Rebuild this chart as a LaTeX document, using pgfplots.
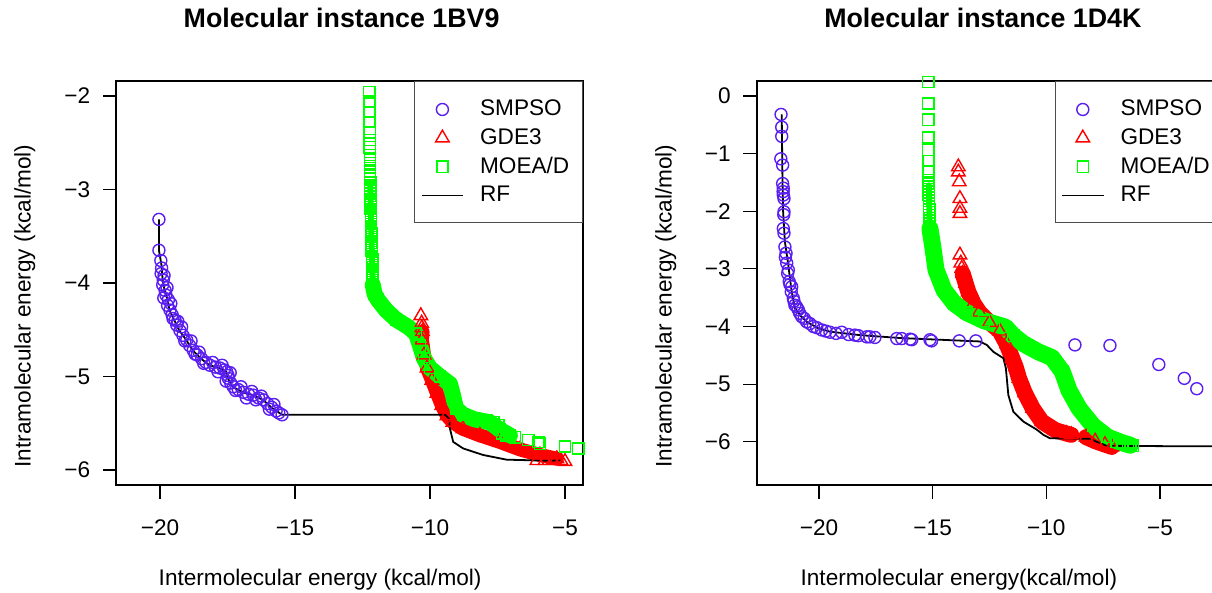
\documentclass[border=0pt]{standalone}
\usepackage{fontspec}
\setmainfont{Liberation Sans}
\usepackage{pgfplots}
\pgfplotsset{compat=1.18}
\usepackage{pgfplotstable}

\definecolor{smpso}{RGB}{90,30,240}
\definecolor{gde}{RGB}{255,0,0}
\definecolor{moea}{RGB}{0,255,0}
\newcommand{\fs}{\fontsize{11.3}{13.5}\selectfont}
\newcommand{\ft}{\fontsize{13.4}{16}\selectfont\bfseries}

% ---------- 1BV9 ----------
\pgfplotstableread{
x y
-20.04 -3.32
-20.04 -3.65
-19.97 -3.76
-19.94 -3.84
-19.96 -3.90
-19.88 -3.97
-19.90 -4.02
-19.81 -4.08
-19.78 -4.13
-19.69 -4.18
-19.72 -4.24
-19.63 -4.29
-19.55 -4.34
-19.44 -4.40
-19.38 -4.45
-19.26 -4.51
-19.15 -4.56
-19.01 -4.61
-18.90 -4.67
-18.77 -4.72
-18.62 -4.77
-18.46 -4.81
-18.30 -4.85
-18.15 -4.88
-17.95 -4.90
-17.78 -4.91
-17.62 -4.93
-17.53 -4.95
-17.48 -4.99
-17.47 -5.02
-17.38 -5.07
-17.29 -5.11
-17.10 -5.14
-16.91 -5.17
-16.72 -5.19
-16.54 -5.20
-16.35 -5.23
-16.17 -5.25
-16.02 -5.29
-15.86 -5.33
-15.70 -5.37
-15.48 -5.41
-19.85 -3.92
-19.74 -4.05
-19.86 -4.16
-19.60 -4.22
-19.52 -4.38
-19.34 -4.41
-19.20 -4.47
-19.08 -4.62
-18.85 -4.62
-18.70 -4.76
-18.55 -4.74
-18.38 -4.86
-18.05 -4.85
-17.85 -4.95
-17.70 -4.88
-17.40 -4.96
-17.55 -5.05
-17.20 -5.15
-17.00 -5.11
-16.80 -5.23
-16.60 -5.16
-16.45 -5.25
-16.25 -5.21
-15.95 -5.35
-15.78 -5.30
-15.60 -5.39
}\lsmpso

\pgfplotstableread{
x y
-10.28 -4.52
-10.30 -4.61
-10.22 -4.77
-10.11 -4.91
-9.93 -5.04
-9.74 -5.18
-9.56 -5.31
-9.37 -5.42
-9.15 -5.49
-8.78 -5.56
-8.15 -5.63
-7.41 -5.70
-6.67 -5.78
-5.93 -5.84
-5.30 -5.88
}\lgdeband

\pgfplotstableread{
x y
-10.34 -4.35
-10.31 -4.43
-10.30 -4.48
-6.04 -5.90
-5.74 -5.90
-5.44 -5.90
-5.15 -5.90
-5.00 -5.91
}\lgdept

\pgfplotstableread{
x y
-12.12 -4.02
-12.05 -4.12
-11.93 -4.18
-11.63 -4.29
-11.26 -4.39
-10.81 -4.47
-10.52 -4.54
-10.37 -4.67
-10.22 -4.81
-10.00 -4.91
-9.63 -5.00
-9.26 -5.08
-9.15 -5.20
-9.04 -5.34
-8.78 -5.41
-8.33 -5.46
-7.78 -5.49
-7.41 -5.57
-7.04 -5.63
}\lmoeaband

\pgfplotstableread{
x y
-12.21 -2.95
-12.17 -3.50
-12.12 -4.02
}\lmoeacol

\pgfplotstableread{
x y
-12.25 -1.84
-12.25 -1.96
-12.24 -2.06
-12.24 -2.17
-12.24 -2.28
-12.23 -2.39
-12.23 -2.47
-12.23 -2.55
-12.22 -2.63
-12.22 -2.68
-12.22 -2.72
-12.22 -2.77
-12.22 -2.81
-12.22 -2.85
-12.22 -2.88
-12.21 -2.92
-12.21 -2.96
-12.21 -2.99
-12.21 -3.02
-12.21 -3.05
-12.21 -3.07
-12.20 -3.10
-12.20 -3.12
-12.20 -3.15
-12.20 -3.17
-12.20 -3.19
-12.20 -3.21
-12.19 -3.23
-12.19 -3.25
-12.19 -3.27
-12.19 -3.29
-12.19 -3.31
-12.19 -3.33
-12.18 -3.35
-12.18 -3.37
-12.18 -3.39
-12.18 -3.41
-12.18 -3.43
-12.18 -3.45
-12.17 -3.47
-12.17 -3.49
-12.17 -3.51
-12.17 -3.53
-12.17 -3.55
-12.17 -3.57
-12.16 -3.59
-12.16 -3.61
-12.16 -3.63
-12.16 -3.65
-12.15 -3.67
-12.15 -3.69
-12.15 -3.71
-12.15 -3.73
-12.14 -3.75
-12.14 -3.77
-12.14 -3.79
-12.14 -3.81
-12.13 -3.83
-12.13 -3.85
-12.13 -3.87
-12.13 -3.89
-12.12 -3.91
-12.12 -3.93
-12.12 -3.95
-12.12 -3.97
-8.33 -5.45
-7.90 -5.47
-7.65 -5.49
-7.47 -5.52
-7.34 -5.61
-7.16 -5.63
-6.85 -5.65
-6.36 -5.68
-5.99 -5.70
-5.93 -5.72
-5.00 -5.75
-4.51 -5.77
}\lmoeapt

\pgfplotstableread{
x y
-20.04 -3.32
-20.04 -3.65
-19.95 -3.80
-19.90 -3.97
-19.83 -4.08
-19.72 -4.18
-19.65 -4.29
-19.47 -4.40
-19.28 -4.51
-19.03 -4.61
-18.79 -4.72
-18.48 -4.81
-18.17 -4.88
-17.80 -4.91
-17.55 -4.95
-17.49 -5.02
-17.31 -5.11
-16.93 -5.17
-16.56 -5.20
-16.19 -5.25
-15.88 -5.33
-15.48 -5.41
-9.44 -5.41
-9.30 -5.45
-9.26 -5.56
-9.14 -5.70
-8.77 -5.77
-8.03 -5.84
-7.16 -5.89
-5.80 -5.90
-5.12 -5.90
}\lrf

% ---------- 1D4K ----------
\pgfplotstableread{
x y
-21.67 -0.32
-21.64 -0.54
-21.64 -0.70
-21.68 -1.09
-21.60 -1.20
-21.60 -1.52
-21.57 -1.60
-21.58 -1.66
-21.57 -1.72
-21.54 -1.78
-21.54 -2.01
-21.55 -2.06
-21.57 -2.30
-21.54 -2.38
-21.50 -2.62
-21.45 -2.73
-21.48 -2.80
-21.42 -2.90
-21.35 -3.02
-21.38 -3.08
-21.31 -3.22
-21.28 -3.27
-21.20 -3.31
-21.22 -3.40
-21.13 -3.51
-21.10 -3.56
-21.06 -3.63
-20.98 -3.66
-20.91 -3.71
-20.85 -3.77
-20.76 -3.83
-20.65 -3.86
-20.54 -3.92
-20.40 -3.95
-20.25 -4.00
-20.10 -4.02
-19.88 -4.06
-19.70 -4.08
-19.52 -4.10
-19.25 -4.12
-19.00 -4.10
-18.70 -4.14
-18.42 -4.15
-18.27 -4.16
-17.90 -4.18
-17.76 -4.18
-17.54 -4.19
-16.58 -4.21
-16.36 -4.21
-15.99 -4.22
-15.92 -4.23
-15.12 -4.23
-15.05 -4.25
-13.83 -4.25
-13.10 -4.25
-8.74 -4.32
-7.20 -4.33
-5.05 -4.66
-3.93 -4.90
-3.38 -5.08
}\rsmpso

\pgfplotstableread{
x y
-13.68 -3.08
-13.55 -3.25
-13.43 -3.40
-13.20 -3.60
-12.95 -3.75
-12.50 -3.93
-12.05 -4.08
-11.75 -4.30
-11.50 -4.55
-11.35 -4.70
-11.20 -4.90
-10.95 -5.15
-10.60 -5.42
-10.20 -5.65
-9.60 -5.80
-9.10 -5.86
-8.90 -5.88
nan nan
-8.25 -5.92
-7.85 -5.99
-7.42 -6.05
-7.12 -6.09
}\rgdeband

\pgfplotstableread{
x y
-13.87 -1.23
-13.87 -1.32
-13.83 -1.49
-13.80 -1.78
-13.80 -1.95
-13.80 -2.04
-13.80 -2.76
-13.76 -2.90
-13.72 -2.99
}\rgdept

\pgfplotstableread{
x y
-15.12 -2.30
-15.00 -2.60
-14.85 -3.02
-14.50 -3.37
-14.05 -3.60
-13.50 -3.76
-12.75 -3.90
-11.80 -4.01
-11.45 -4.16
-11.00 -4.30
-10.35 -4.44
-9.75 -4.54
-9.30 -4.78
-9.00 -5.11
-8.56 -5.42
-7.95 -5.72
-7.30 -5.92
-6.65 -6.02
-6.30 -6.06
}\rmoeaband

\pgfplotstableread{
x y
-15.17 -1.55
-15.14 -2.10
-15.12 -2.35
}\rmoeacol

\pgfplotstableread{
x y
-15.19 0.24
-15.19 -0.13
-15.19 -0.41
-15.19 -0.72
-15.19 -0.94
-15.18 -1.13
-15.18 -1.30
-15.18 -1.46
-15.18 -1.52
-15.17 -1.57
-15.17 -1.62
-15.17 -1.67
-15.17 -1.72
-15.16 -1.77
-15.16 -1.82
-15.16 -1.87
-15.16 -1.92
-15.15 -1.97
-15.15 -2.02
-15.15 -2.07
-15.14 -2.12
-15.14 -2.17
-15.13 -2.22
-15.13 -2.27
-6.90 -6.00
-6.62 -6.04
-6.40 -6.06
-6.18 -6.07
}\rmoeapt

\pgfplotstableread{
x y
-21.64 -0.32
-21.61 -1.37
-21.58 -2.00
-21.50 -2.53
-21.35 -2.93
-21.28 -3.16
-21.20 -3.40
-21.06 -3.68
-20.80 -3.82
-20.54 -3.92
-20.03 -4.03
-19.52 -4.09
-18.20 -4.15
-16.44 -4.20
-12.92 -4.26
-12.62 -4.32
-12.33 -4.44
-11.89 -4.55
-11.78 -4.72
-11.67 -5.19
-11.45 -5.48
-11.01 -5.65
-10.42 -5.79
-10.13 -5.88
-9.84 -5.94
-8.08 -5.95
-7.79 -6.00
-7.35 -6.07
-3.69 -6.08
-2.30 -6.08
}\rrf

\pgfplotsset{
  rpanel/.style={
    scale only axis, width=233.2pt, height=202pt, anchor=south west,
    tick align=outside, xtick pos=bottom, ytick pos=left,
    major tick length=6.65pt,
    tick style={black, line width=0.6pt},
    axis line style={black, line width=0.8pt},
    ticklabel style={font=\fs, inner sep=0pt},
    xticklabel shift=10.5pt, yticklabel shift=6.2pt,
    xtick={-20,-15,-10,-5}, xticklabels={−20,−15,−10,−5},
    label style={font=\fs},
    title style={font=\ft, anchor=center},
    unbounded coords=jump,
    legend cell align=left,
    legend style={at={(1,1)}, anchor=north east, draw=black!70, line width=0.6pt,
      fill=white, inner xsep=3pt, inner ysep=9.1pt, row sep=4.85pt, font=\fs,
      nodes={inner sep=0pt},
      /tikz/every odd column/.append style={column sep=8pt},
      /tikz/every even column/.append style={text width=48pt}},
    legend image code/.code={\draw[mark repeat=2,mark phase=2,#1]
      plot coordinates {(0pt,0pt) (10.4pt,0pt) (20.8pt,0pt)};},
  },
  smp/.style={smpso, only marks, mark=o, mark size=3pt, mark options={line width=0.7pt}},
  gdm/.style={gde, only marks, mark=triangle, mark size=3.9pt, mark options={line width=0.7pt}},
  moem/.style={moea, only marks, mark=square, mark size=2.8pt, mark options={line width=0.7pt}},
  band/.style={line width=#1, line join=round, line cap=round, forget plot},
}

\begin{document}
\begin{tikzpicture}
\begin{axis}[rpanel,
  at={(58.15pt,53.85pt)},
  xmin=-21.619, xmax=-4.344, ymin=-6.164, ymax=-1.843,
  ytick={-6,-5,-4,-3,-2}, yticklabels={−6,−5,−4,−3,−2},
  title={Molecular instance 1BV9},
  title style={at={(axis description cs:0.483,1.127)}},
  xlabel={Intermolecular energy (kcal/mol)},
  xlabel style={at={(axis description cs:0.437,-0.234)}, anchor=center},
  ylabel={Intramolecular energy (kcal/mol)},
  ylabel style={at={(axis description cs:-0.196,0.444)}, anchor=center},
]
\addplot[smp] table {\lsmpso};
\addlegendentry{SMPSO}
\addplot[gde, band=7pt] table {\lgdeband};
\addplot[gdm] table {\lgdeband};
\addlegendentry{GDE3}
\addplot[gdm, forget plot] table {\lgdept};
\addplot[moea, band=3pt] table {\lmoeacol};
\addplot[moea, band=8pt] table {\lmoeaband};
\addplot[moem] table {\lmoeaband};
\addlegendentry{MOEA/D}
\addplot[moem, forget plot] table {\lmoeapt};
\addplot[black, line width=0.9pt] table {\lrf};
\addlegendentry{RF}
\end{axis}

\begin{axis}[rpanel,
  at={(378.35pt,53.85pt)},
  xmin=-22.741, xmax=-2.222, ymin=-6.756, ymax=0.255,
  ytick={-6,-5,-4,-3,-2,-1,0}, yticklabels={−6,−5,−4,−3,−2,−1,0},
  title={Molecular instance 1D4K},
  title style={at={(axis description cs:0.485,1.127)}},
  xlabel={Intermolecular energy(kcal/mol)},
  xlabel style={at={(axis description cs:0.4335,-0.234)}, anchor=center},
  ylabel={Intramolecular energy (kcal/mol)},
  ylabel style={at={(axis description cs:-0.195,0.444)}, anchor=center},
]
\addplot[smp] table {\rsmpso};
\addlegendentry{SMPSO}
\addplot[gde, band=8pt] table {\rgdeband};
\addplot[gdm] table {\rgdeband};
\addlegendentry{GDE3}
\addplot[gdm, forget plot] table {\rgdept};
\addplot[moea, band=3pt] table {\rmoeacol};
\addplot[moea, band=8.5pt] table {\rmoeaband};
\addplot[moem] table {\rmoeaband};
\addlegendentry{MOEA/D}
\addplot[moem, forget plot] table {\rmoeapt};
\addplot[black, line width=0.9pt] table {\rrf};
\addlegendentry{RF}
\end{axis}
\pgfresetboundingbox
\path[use as bounding box] (0,0) rectangle (606pt,296.5pt);
\end{tikzpicture}
\end{document}
